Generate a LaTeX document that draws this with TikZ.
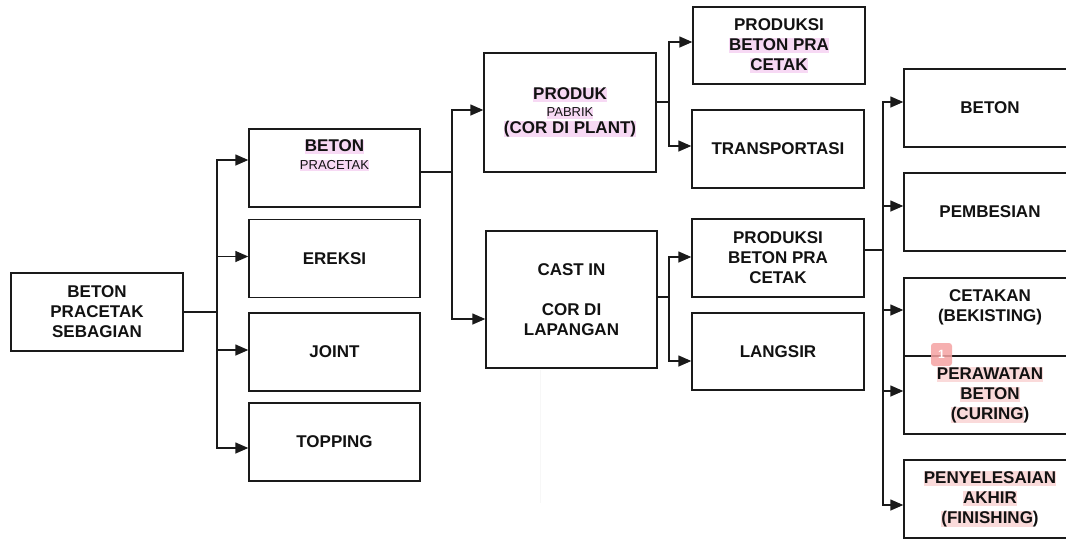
\documentclass[tikz,border=0pt]{standalone}
\usepackage{fontspec}
\setmainfont{Liberation Sans}
\usetikzlibrary{arrows.meta,calc}
\definecolor{hlpink}{HTML}{F7D9F4}
\definecolor{hlred}{HTML}{FADADA}
\definecolor{edge}{HTML}{1A1A1A}
\definecolor{mark}{HTML}{F5A3A3}
\newcommand\hlp[1]{{\setlength\fboxsep{0pt}\colorbox{hlpink}{\rule[-0.16em]{0pt}{0.8em}#1}}}
\newcommand\hlr[1]{{\setlength\fboxsep{0pt}\colorbox{hlred}{\rule[-0.16em]{0pt}{0.8em}#1}}}
\newcommand\smalltxt{\fontsize{13}{15}\mdseries\selectfont}
\tikzset{
  boxnode/.style={draw=edge, line width=1.4pt, minimum width=172pt, minimum height=78pt,
    inner sep=0pt, align=center, font=\fontsize{17}{20}\bfseries\selectfont, text=black!93},
  txt/.style={inner sep=0pt, align=center, font=\fontsize{17}{20}\bfseries\selectfont, text=black!93},
  conn/.style={draw=edge, line width=1.4pt},
  arr/.style={conn, -{Triangle[length=13pt,width=11pt]}},
}
\begin{document}
\begin{tikzpicture}[x=1pt,y=-1pt]
\clip (0,0) rectangle (1066,539);
\fill[white] (0,0) rectangle (1066,539);
% faint line
\draw[black!3, line width=0.8pt] (540,370) -- (540,503);
% column 1
\node[boxnode] (root) at (97,312) {BETON\\PRACETAK\\SEBAGIAN};
% column 2
\node[boxnode, minimum width=171pt] (bp) at (334.5,168) {};
\node[txt] (bpt) at (334.5,155.5) {\hlp{BETON}\\[-2pt]{\smalltxt\hlp{PRACETAK}}};
\node[boxnode, minimum width=171pt] (ereksi) at (334.5,258.5) {EREKSI};
\node[boxnode, minimum width=171pt] (joint) at (334.5,352) {JOINT};
\node[boxnode, minimum width=171pt] (topping) at (334.5,442) {TOPPING};
% column 3
\node[boxnode, minimum height=119pt] (produk) at (570,112.5) {\hlp{PRODUK}\\[-3pt]{\smalltxt\hlp{PABRIK}}\\[-3pt]\hlp{(COR DI PLANT)}};
\node[boxnode, minimum width=171pt, minimum height=137pt] (castin) at (571.5,299.5) {CAST IN\\[20pt]COR DI\\LAPANGAN};
% column 4
\node[boxnode, minimum height=77pt] (prodA) at (779,45.5) {PRODUKSI\\\hlp{BETON PRA}\\\hlp{CETAK}};
\node[boxnode] (transp) at (778,149) {TRANSPORTASI};
\node[boxnode] (prodB) at (778,258) {PRODUKSI\\BETON PRA\\CETAK};
\node[boxnode, minimum height=77pt] (langsir) at (778,351.5) {LANGSIR};
% column 5
\node[boxnode] (beton) at (990,108) {BETON};
\node[boxnode] (pembesian) at (990,212) {PEMBESIAN};
\node[boxnode] (cetakan) at (990,317) {};
\node[txt] (cetakant) at (990,307.5) {CETAKAN\\(BEKISTING)};
\node[boxnode] (perawatan) at (990,395) {\hlr{PERAWATAN}\\\hlr{BETON}\\\hlr{(CURING}\kern0pt)};
\node[boxnode] (penyelesaian) at (990,499) {\hlr{PENYELESAIAN}\\\hlr{AKHIR}\\\hlr{(FINISHING}\kern0pt)};
% junctions
\coordinate (j1) at (217,312);
\coordinate (j2) at (452,172);
\coordinate (j3) at (669,102);
\coordinate (j4) at (669,297);
\coordinate (j5) at (883,250);
% connectors
\draw[conn] (root.east) -- (j1);
\draw[arr] (j1) |- ([yshift=8pt]bp.west);
\draw[arr] (j1) |- ([yshift=2pt]ereksi.west);
\draw[arr] (j1) |- ([yshift=2pt]joint.west);
\draw[arr] (j1) |- ([yshift=-6pt]topping.west);
\draw[conn] ([yshift=-4pt]bp.east) -- (j2);
\draw[arr] (j2) |- ([yshift=2.5pt]produk.west);
\draw[arr] (j2) |- ([yshift=-19.5pt]castin.west);
\draw[conn] ([yshift=10.5pt]produk.east) -- (j3);
\draw[arr] (j3) |- ([yshift=3.5pt]prodA.west);
\draw[arr] (j3) |- ([yshift=3pt]transp.west);
\draw[conn] ([yshift=2.5pt]castin.east) -- (j4);
\draw[arr] (j4) |- ([yshift=1pt]prodB.west);
\draw[arr] (j4) |- ([yshift=-9.5pt]langsir.west);
\draw[conn] ([yshift=8pt]prodB.east) -- (j5);
\draw[arr] (j5) |- ([yshift=6pt]beton.west);
\draw[arr] (j5) |- ([yshift=6pt]pembesian.west);
\draw[arr] (j5) |- ([yshift=7pt]cetakan.west);
\draw[arr] (j5) |- ([yshift=4pt]perawatan.west);
\draw[arr] (j5) |- ([yshift=-6pt]penyelesaian.west);
% annotation marker
\node[fill=mark, fill opacity=0.85, text opacity=1, rounded corners=3pt, minimum width=21pt, minimum height=23pt,
  inner sep=0pt, text=white, font=\fontsize{12}{12}\bfseries\selectfont] (marker) at (941.5,354.5) {1};
\end{tikzpicture}
\end{document}
